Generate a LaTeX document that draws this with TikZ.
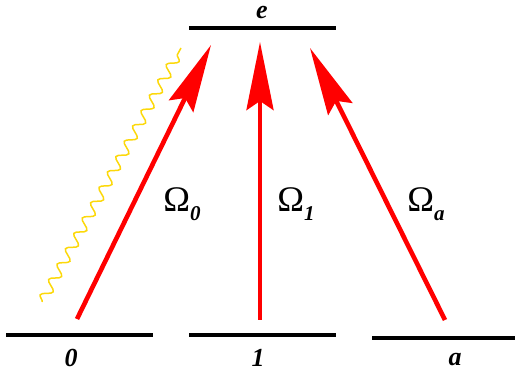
\documentclass[tikz,border=0pt]{standalone}
\usepackage{fontspec}
\setmainfont{Liberation Serif}
\usetikzlibrary{arrows.meta,decorations.pathmorphing}
\definecolor{laser}{RGB}{255,0,0}
\definecolor{photon}{RGB}{252,216,10}
\tikzset{
  level/.style={fill=black, inner sep=0pt, minimum width=147pt, minimum height=4pt},
  levlab/.style={font=\fontsize{26}{26}\selectfont\bfseries\itshape, inner sep=0pt},
  rabi/.style={font=\fontsize{36}{36}\selectfont, inner sep=0pt},
  pump/.style={draw=laser, line width=4.6pt, -{Stealth[length=68pt, width=27pt, inset=9pt]}},
  decay/.style={draw=photon, line width=1.5pt, decorate,
    decoration={snake, segment length=17.5pt, amplitude=5pt}}
}
\newcommand{\rabisub}[1]{\raisebox{-9pt}{\fontsize{21}{21}\selectfont\bfseries\itshape #1}}
\begin{document}
\begin{tikzpicture}[x=1pt, y=1pt]
  \useasboundingbox (0,0) rectangle (515,372);
  % levels
  \node[level] (lvE) at (262,344) {};
  \node[level] (lv0) at (79.5,37) {};
  \node[level] (lv1) at (262.5,37) {};
  \node[level, minimum width=143pt] (lvA) at (443.5,34) {};
  \node[levlab] (labE) at (262,359) {e};
  \node[levlab] (lab0) at (71,14) {0};
  \node[levlab] (lab1) at (258,14) {1};
  \node[levlab] (labA) at (455,12) {a};
  % arrow ends
  \coordinate (s0) at (77,53);
  \coordinate (t0) at (211,327);
  \coordinate (s1) at (260,52);
  \coordinate (t1) at (260,330);
  \coordinate (sA) at (445,52);
  \coordinate (tA) at (310,324);
  \draw[pump] (s0) -- (t0);
  \draw[pump] (s1) -- (t1);
  \draw[pump] (sA) -- (tA);
  % spontaneous decay
  \coordinate (w0) at (181,324);
  \coordinate (w1) at (42,70);
  \draw[decay] (w1) -- (w0);
  % Rabi frequencies
  \node[rabi] (om0) at (182,168) {Ω\rabisub{0}};
  \node[rabi] (om1) at (296,168) {Ω\rabisub{1}};
  \node[rabi] (omA) at (426,168) {Ω\rabisub{a}};
\end{tikzpicture}
\end{document}
